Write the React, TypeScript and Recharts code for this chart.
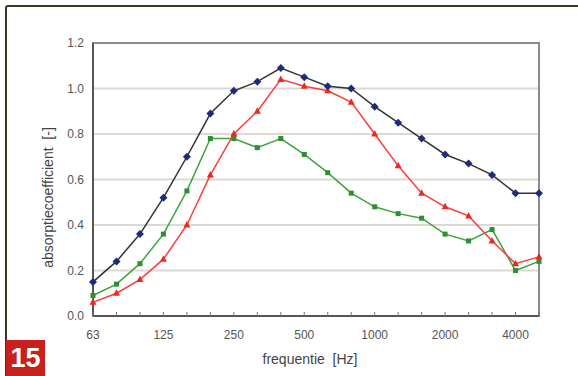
import React from 'react';
import { CartesianGrid, Line, LineChart, ReferenceArea, XAxis, YAxis } from 'recharts';

// third-octave band centres (Hz)
const freqs = [
  '63', '80', '100', '125', '160', '200', '250', '315', '400', '500',
  '630', '800', '1000', '1250', '1600', '2000', '2500', '3150', '4000', '5000',
];
const labelledFreqs = ['63', '125', '250', '500', '1000', '2000', '4000'];

const blueValues = [
  0.15, 0.24, 0.36, 0.52, 0.7, 0.89, 0.99, 1.03, 1.09, 1.05,
  1.01, 1.0, 0.92, 0.85, 0.78, 0.71, 0.67, 0.62, 0.54, 0.54,
];
const redValues = [
  0.06, 0.1, 0.16, 0.25, 0.4, 0.62, 0.8, 0.9, 1.04, 1.01,
  0.99, 0.94, 0.8, 0.66, 0.54, 0.48, 0.44, 0.33, 0.23, 0.26,
];
const greenValues = [
  0.09, 0.14, 0.23, 0.36, 0.55, 0.78, 0.78, 0.74, 0.78, 0.71,
  0.63, 0.54, 0.48, 0.45, 0.43, 0.36, 0.33, 0.38, 0.2, 0.24,
];
const yTicks = [0, 0.2, 0.4, 0.6, 0.8, 1.0, 1.2];

const data = freqs.map((f, i) => ({
  f,
  blue: blueValues[i],
  red: redValues[i],
  green: greenValues[i],
}));

const FONT = '"Liberation Sans", Arial, sans-serif';

const Diamond = ({ cx, cy }: any) => (
  <polygon
    points={`${cx},${cy - 4} ${cx + 4},${cy} ${cx},${cy + 4} ${cx - 4},${cy}`}
    fill="#1f2a7c"
  />
);
const Triangle = ({ cx, cy }: any) => (
  <polygon points={`${cx},${cy - 4} ${cx + 3.5},${cy + 2.5} ${cx - 3.5},${cy + 2.5}`} fill="#ea2a22" />
);
const Square = ({ cx, cy }: any) => (
  <rect x={cx - 2.5} y={cy - 2.5} width={5} height={5} fill="#2f8f2f" />
);

const FreqTick = ({ x, y, payload }: any) => (
  <g>
    <line x1={x} y1={y} x2={x} y2={y - 4} stroke="#777" strokeWidth={1} />
    {labelledFreqs.includes(payload.value) && (
      <text x={x} y={y + 23} textAnchor="middle" fill="#555" fontSize={12} fontFamily={FONT}>
        {payload.value}
      </text>
    )}
  </g>
);

export default function App() {
  return (
    <div style={{ position: 'fixed', left: 0, top: 0, width: 578, height: 376, overflow: 'hidden', background: '#fff' }}>
      <div
        style={{
          position: 'absolute',
          left: 5,
          top: 5,
          width: 620,
          height: 420,
          border: '2px solid #3d3526',
          borderRadius: 3,
        }}
      />
      <LineChart width={578} height={376} data={data} margin={{ top: 43, right: 39, bottom: 0, left: 0 }}>
        <CartesianGrid vertical={false} stroke="#dcd9d2" strokeWidth={2} />
        <ReferenceArea x1="63" x2="5000" y1={0} y2={1.2} fill="none" stroke="#8c8c8c" strokeWidth={2} />
        <XAxis
          dataKey="f"
          scale="point"
          interval={0}
          height={60}
          tickSize={0}
          tickMargin={0}
          tickLine={false}
          axisLine={{ stroke: '#555', strokeWidth: 2 }}
          tick={<FreqTick />}
          label={{
            content: ({ viewBox }: any) => (
              <text
                x={viewBox.x + viewBox.width / 2 - 6}
                y={viewBox.y + 48}
                textAnchor="middle"
                fill="#444"
                fontSize={14}
                fontFamily={FONT}
                style={{ whiteSpace: 'pre' }}
              >
                {'frequentie  [Hz]'}
              </text>
            ),
          }}
        />
        <YAxis
          type="number"
          domain={[0, 1.2]}
          ticks={yTicks}
          width={93}
          tickLine={false}
          tickSize={0}
          tickMargin={9}
          axisLine={{ stroke: '#555', strokeWidth: 2 }}
          tickFormatter={(v: number) => v.toFixed(1)}
          tick={{ fill: '#555', fontSize: 12, fontFamily: FONT }}
          label={{
            content: ({ viewBox }: any) => {
              const cx = 48;
              const cy = viewBox.y + viewBox.height / 2 + 18;
              return (
                <text
                  x={cx}
                  y={cy}
                  transform={`rotate(-90 ${cx} ${cy})`}
                  textAnchor="middle"
                  dominantBaseline="central"
                  fill="#444"
                  fontSize={14}
                  fontFamily={FONT}
                  style={{ whiteSpace: 'pre' }}
                >
                  {'absorptiecoefficient  [-]'}
                </text>
              );
            },
          }}
        />
        <Line dataKey="green" stroke="#3fa33f" strokeWidth={1.5} dot={<Square />} isAnimationActive={false} />
        <Line dataKey="red" stroke="#ff3c3c" strokeWidth={1.5} dot={<Triangle />} isAnimationActive={false} />
        <Line dataKey="blue" stroke="#333" strokeWidth={1.5} dot={<Diamond />} isAnimationActive={false} />
      </LineChart>
      <div
        style={{
          position: 'absolute',
          left: 6,
          top: 340,
          width: 39,
          height: 36,
          background: '#c8201e',
          color: '#fff',
          fontFamily: FONT,
          fontWeight: 'bold',
          fontSize: 27,
          lineHeight: '36px',
          textAlign: 'center',
        }}
      >
        15
      </div>
    </div>
  );
}
